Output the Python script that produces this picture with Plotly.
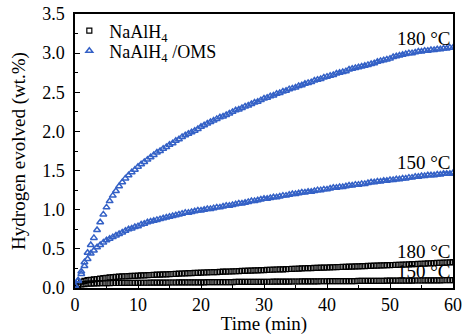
import plotly.graph_objects as go

# time grid (min), one reading every 0.5 min
time_min = [i * 0.5 for i in range(121)]

# NaAlH4 (black open squares)
naalh4_180 = [
    0.020, 0.050, 0.080, 0.090, 0.100, 0.105, 0.110, 0.115, 0.120, 0.125,
    0.130, 0.135, 0.140, 0.143, 0.146, 0.148, 0.150,
    0.152, 0.154, 0.156, 0.158, 0.160, 0.162, 0.164, 0.166, 0.168, 0.170, 0.171, 0.173,
    0.175, 0.177, 0.179, 0.181, 0.183, 0.185, 0.187, 0.189, 0.190, 0.192, 0.194, 0.196,
    0.198, 0.199, 0.201, 0.203, 0.204, 0.206, 0.208, 0.209, 0.211, 0.213, 0.214, 0.216,
    0.218, 0.219, 0.221, 0.223, 0.224, 0.226, 0.228, 0.229, 0.231, 0.233, 0.234, 0.236,
    0.238, 0.239, 0.241, 0.243, 0.244, 0.246, 0.248, 0.250,
    0.252, 0.253, 0.255, 0.256, 0.258, 0.259, 0.261, 0.262, 0.264, 0.265, 0.267, 0.268,
    0.270, 0.271, 0.273, 0.274, 0.276, 0.277, 0.279, 0.280, 0.282, 0.283, 0.285, 0.286,
    0.288, 0.289, 0.291, 0.292, 0.294, 0.295, 0.297, 0.298,
    0.300, 0.302, 0.304, 0.306, 0.308, 0.310, 0.312, 0.314, 0.316, 0.318, 0.320, 0.322,
    0.324, 0.326, 0.328, 0.330,
]
naalh4_150 = [
    0.020, 0.035, 0.045, 0.050, 0.055, 0.057, 0.059, 0.060, 0.061, 0.062,
    0.063, 0.063, 0.064, 0.064, 0.064, 0.065, 0.065, 0.065, 0.066, 0.066,
    0.066, 0.067, 0.067, 0.067, 0.068, 0.068, 0.068, 0.069, 0.069, 0.069,
    0.070, 0.070, 0.070, 0.071, 0.071, 0.071, 0.072, 0.072, 0.072, 0.073,
    0.073, 0.073, 0.074, 0.074, 0.074, 0.075, 0.075, 0.075, 0.076, 0.076,
    0.076, 0.077, 0.077, 0.077, 0.078, 0.078, 0.078, 0.079, 0.079, 0.079,
    0.080,
    0.080, 0.080, 0.081, 0.081, 0.081, 0.082, 0.082, 0.082, 0.083, 0.083,
    0.083, 0.084, 0.084, 0.084, 0.085, 0.085, 0.085, 0.086, 0.086, 0.086,
    0.087, 0.087, 0.087, 0.088, 0.088, 0.088, 0.089, 0.089, 0.089, 0.090,
    0.090, 0.090, 0.091, 0.091, 0.091, 0.092, 0.092, 0.092, 0.093, 0.093,
    0.093, 0.094, 0.094, 0.094, 0.095, 0.095, 0.095, 0.096, 0.096, 0.096,
    0.097, 0.097, 0.097, 0.098, 0.098, 0.098, 0.099, 0.099, 0.099, 0.100,
]

# NaAlH4/OMS (blue open triangles)
oms_180 = [
    0.03, 0.10, 0.21, 0.33, 0.45, 0.55, 0.64, 0.74, 0.84, 0.94,
    1.03, 1.11, 1.18, 1.24, 1.30, 1.35, 1.40, 1.44, 1.48, 1.51,
    1.55, 1.58, 1.61, 1.64, 1.67, 1.70, 1.73, 1.75, 1.78, 1.80,
    1.83, 1.85, 1.88, 1.90, 1.93, 1.95, 1.97, 1.99, 2.01, 2.03,
    2.06, 2.08, 2.10, 2.12, 2.14, 2.16, 2.18, 2.19, 2.21, 2.23,
    2.25, 2.27, 2.28, 2.30, 2.32, 2.33, 2.35, 2.37, 2.38, 2.40,
    2.42, 2.43, 2.45, 2.46, 2.48, 2.49, 2.51, 2.52, 2.54, 2.55,
    2.56, 2.58, 2.59, 2.61, 2.62, 2.63, 2.65, 2.66, 2.67, 2.69,
    2.70, 2.71, 2.72, 2.74, 2.75, 2.76, 2.77, 2.79, 2.80, 2.81,
    2.82, 2.83, 2.84, 2.85, 2.86, 2.87, 2.89, 2.90, 2.91, 2.92,
    2.93, 2.95, 2.96, 2.97, 2.98, 2.99, 3.00, 3.00, 3.01, 3.02,
    3.02, 3.03, 3.03, 3.04, 3.04, 3.05, 3.05, 3.06, 3.06, 3.07,
    3.07,
]
oms_150 = [
    0.03, 0.09, 0.18, 0.28, 0.37, 0.44, 0.48, 0.52, 0.55, 0.58,
    0.61, 0.63, 0.65, 0.67, 0.69, 0.71, 0.73, 0.75, 0.76, 0.78,
    0.79, 0.81, 0.82, 0.84, 0.85, 0.86, 0.87, 0.88, 0.89, 0.90,
    0.91, 0.92, 0.93, 0.94, 0.95, 0.96, 0.96, 0.97, 0.98, 0.99,
    0.99, 1.00, 1.01, 1.01, 1.02, 1.03, 1.03, 1.04, 1.05, 1.05,
    1.06, 1.07, 1.08, 1.08, 1.09, 1.10, 1.11, 1.11, 1.12, 1.13,
    1.14, 1.14, 1.15, 1.16, 1.16, 1.17, 1.18, 1.18, 1.19, 1.20,
    1.20, 1.21, 1.22, 1.22, 1.23, 1.23, 1.24, 1.25, 1.25, 1.26,
    1.26, 1.27, 1.28, 1.28, 1.29, 1.29, 1.30, 1.31, 1.31, 1.32,
    1.32, 1.33, 1.33, 1.34, 1.35, 1.35, 1.36, 1.36, 1.37, 1.37,
    1.38, 1.38, 1.39, 1.39, 1.40, 1.40, 1.41, 1.41, 1.42, 1.42,
    1.43, 1.43, 1.44, 1.44, 1.44, 1.45, 1.45, 1.46, 1.46, 1.46,
    1.47,
]

labels = [("180 °C", 60, 3.19), ("150 °C", 60, 1.60), ("180 °C", 60, 0.46), ("150 °C", 60, 0.21)]

FONT = "Liberation Serif"
BLUE = "#3461c6"

fig = go.Figure()
sq = dict(symbol="square-open", size=5, color="black", line=dict(width=1.2, color="black"))
tri = dict(symbol="triangle-up-open", size=6, color=BLUE, line=dict(width=1.5, color=BLUE))

fig.add_trace(go.Scatter(x=time_min, y=naalh4_180, mode="markers", marker=sq,
                         name="NaAlH<sub>4</sub>", legend="legend"))
fig.add_trace(go.Scatter(x=time_min, y=naalh4_150, mode="markers", marker=sq,
                         showlegend=False))
fig.add_trace(go.Scatter(x=time_min, y=oms_180, mode="markers", marker=tri,
                         name="NaAlH<sub>4</sub> /OMS", legend="legend2"))
fig.add_trace(go.Scatter(x=time_min, y=oms_150, mode="markers", marker=tri,
                         showlegend=False))

for txt, xv, yv in labels:
    fig.add_annotation(x=xv, y=yv, text=txt, showarrow=False, xanchor="right",
                       yanchor="middle", font=dict(family=FONT, size=19, color="black"))

axis_common = dict(showline=True, linecolor="black", linewidth=1.5, mirror=True,
                   ticks="inside", ticklen=5, tickwidth=1.2, tickcolor="black",
                   showgrid=False, zeroline=False, automargin=False,
                   ticklabeloverflow="allow",
                   tickfont=dict(family=FONT, size=18, color="black"))

fig.update_xaxes(range=[0, 60], dtick=10, tick0=0,
                 minor=dict(dtick=5, ticks="inside", ticklen=3, tickcolor="black", tickwidth=1),
                 title=dict(text="Time (min)", font=dict(family=FONT, size=19, color="black"),
                            standoff=0),
                 **axis_common)
fig.update_yaxes(range=[0, 3.5], dtick=0.5, tick0=0, tickformat=".1f",
                 ticklabelstandoff=5,
                 minor=dict(dtick=0.25, ticks="inside", ticklen=3, tickcolor="black", tickwidth=1),
                 title=dict(text="Hydrogen evolved (wt.%)",
                            font=dict(family=FONT, size=19, color="black"), standoff=12),
                 **axis_common)

leg_common = dict(xanchor="left", yanchor="middle", bgcolor="rgba(0,0,0,0)",
                  font=dict(family=FONT, size=18, color="black"), itemwidth=30,
                  borderwidth=0)
fig.update_layout(
    width=463, height=335,
    margin=dict(l=75, r=10, t=14, b=47, autoexpand=False),
    paper_bgcolor="white", plot_bgcolor="white",
    showlegend=True,
    legend=dict(x=-0.015, y=(288 - 31) / 274, **leg_common),
    legend2=dict(x=-0.015, y=(288 - 51) / 274, **leg_common),
)

# remove the browser's default 8 px body margin so the figure fills the window
fig.write_html("out.html", config={"displayModeBar": False},
               post_script="document.body.style.margin='0';")
